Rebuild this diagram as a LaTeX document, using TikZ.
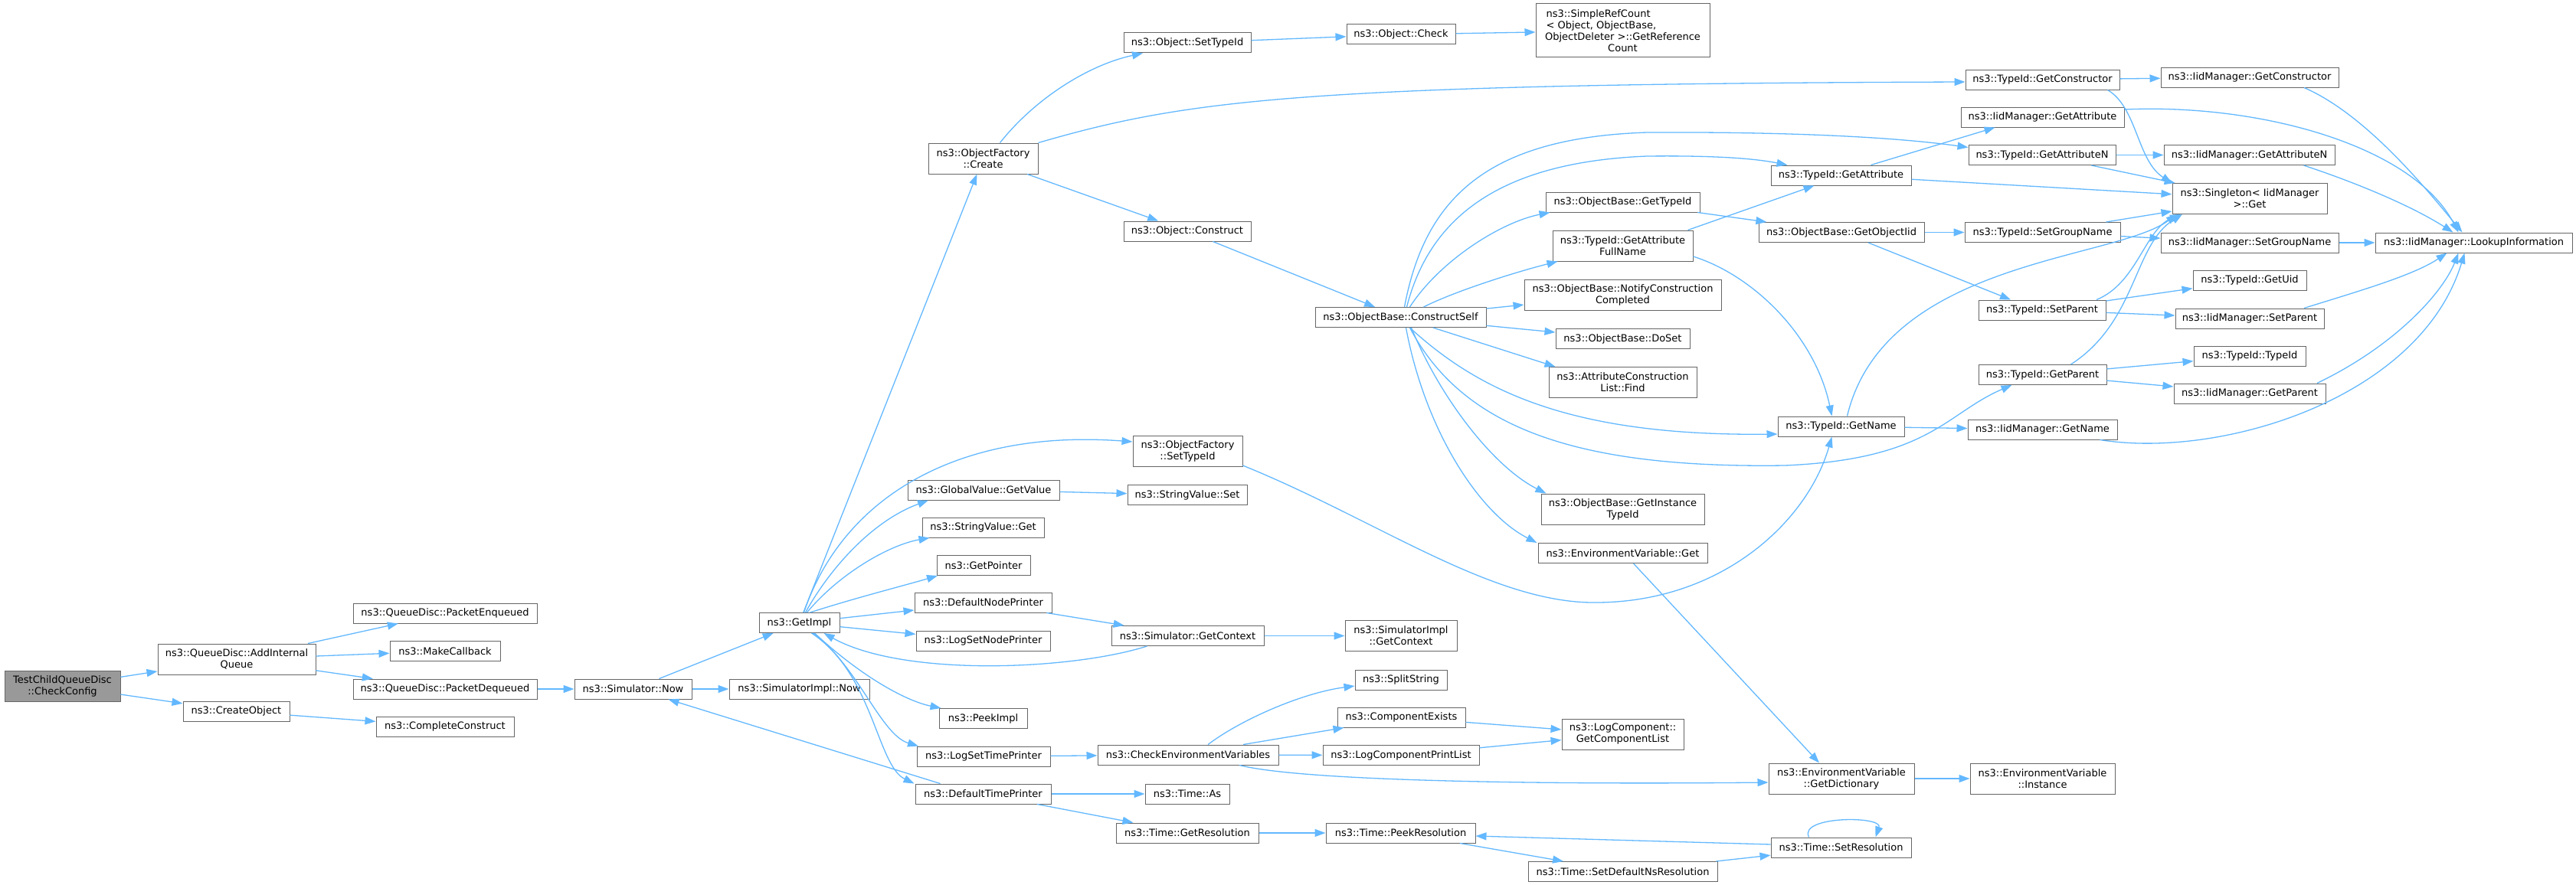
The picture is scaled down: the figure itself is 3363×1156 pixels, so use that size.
\documentclass[tikz,border=0pt]{standalone}
\usepackage{fontspec}
\setmainfont{DejaVu Sans}
\usetikzlibrary{arrows.meta}

\definecolor{edgeblue}{HTML}{63B8FF}
\definecolor{boxgray}{HTML}{666666}
\definecolor{rootgray}{HTML}{999999}

\begin{document}
\begin{tikzpicture}[x=1pt, y=-1pt,
    fn/.style={draw=boxgray, line width=1pt, fill=white, rectangle, inner sep=2pt, minimum height=26pt, align=center, font=\fontsize{13}{15}\selectfont},
    fn2/.style={fn, minimum height=40pt},
    call/.style={draw=edgeblue, line width=1.3pt, -{Triangle[length=14pt,width=10pt]}}]
    \useasboundingbox (0,0) rectangle (3363,1156);

    % functions
    \node[fn2, fill=rootgray, minimum width=151pt] (root) at (81.5,896) {TestChildQueueDisc\\::CheckConfig};
    \node[fn2, minimum width=206pt] (addq) at (309,861) {ns3::QueueDisc::AddInternal\\Queue};
    \node[fn, minimum width=240pt] (enq) at (581,801) {ns3::QueueDisc::PacketEnqueued};
    \node[fn, minimum width=144pt] (mkcb) at (581,850.5) {ns3::MakeCallback};
    \node[fn, minimum width=240pt] (deq) at (581,900) {ns3::QueueDisc::PacketDequeued};
    \node[fn, minimum width=139pt] (create) at (308.5,929) {ns3::CreateObject};
    \node[fn, minimum width=180pt] (complete) at (581,949) {ns3::CompleteConstruct};
    \node[fn, minimum width=153pt] (now) at (826.5,900) {ns3::Simulator::Now};
    \node[fn, minimum width=105pt] (getimpl) at (1043.5,813.5) {ns3::GetImpl};
    \node[fn, minimum width=183pt] (implnow) at (1043.5,900) {ns3::SimulatorImpl::Now};
    \node[fn2, minimum width=143pt] (ofcreate) at (1283.5,207) {ns3::ObjectFactory\\::Create};
    \node[fn, minimum width=198pt] (gvget) at (1284,640) {ns3::GlobalValue::GetValue};
    \node[fn, minimum width=159pt] (svget) at (1283.5,689) {ns3::StringValue::Get};
    \node[fn, minimum width=122pt] (getptr) at (1284,738.5) {ns3::GetPointer};
    \node[fn, minimum width=179pt] (dnp) at (1283.5,787) {ns3::DefaultNodePrinter};
    \node[fn, minimum width=175pt] (lsnp) at (1283.5,837) {ns3::LogSetNodePrinter};
    \node[fn, minimum width=115pt] (peek) at (1283.5,938.5) {ns3::PeekImpl};
    \node[fn, minimum width=174pt] (lstp) at (1284,988) {ns3::LogSetTimePrinter};
    \node[fn, minimum width=177pt] (dtp) at (1283.5,1037) {ns3::DefaultTimePrinter};
    \node[fn, minimum width=166pt] (osettid) at (1550,56) {ns3::Object::SetTypeId};
    \node[fn, minimum width=166pt] (oconstruct) at (1550,302) {ns3::Object::Construct};
    \node[fn2, minimum width=143pt] (ofsettid) at (1550.5,589) {ns3::ObjectFactory\\::SetTypeId};
    \node[fn, minimum width=156pt] (svset) at (1550,646.5) {ns3::StringValue::Set};
    \node[fn, minimum width=199pt] (simctx) at (1550.5,830.5) {ns3::Simulator::GetContext};
    \node[fn, minimum width=236pt] (cev) at (1551,986) {ns3::CheckEnvironmentVariables};
    \node[fn, minimum width=110pt] (tas) at (1550,1037) {ns3::Time::As};
    \node[fn, minimum width=186pt] (tgetres) at (1550,1088) {ns3::Time::GetResolution};
    \node[fn, minimum width=142pt] (ocheck) at (1829,45) {ns3::Object::Check};
    \node[fn, minimum width=223pt] (cself) at (1828.5,414.5) {ns3::ObjectBase::ConstructSelf};
    \node[fn2, minimum width=146pt] (implctx) at (1829,830.5) {ns3::SimulatorImpl\\::GetContext};
    \node[fn, minimum width=120pt] (split) at (1829,888) {ns3::SplitString};
    \node[fn, minimum width=167pt] (cexists) at (1829.5,937) {ns3::ComponentExists};
    \node[fn, minimum width=204pt] (lcpl) at (1829,986.5) {ns3::LogComponentPrintList};
    \node[fn, minimum width=195pt] (peekres) at (1828.5,1088) {ns3::Time::PeekResolution};
    \node[fn, minimum width=227pt, minimum height=70pt] (refcnt) at (2118.5,40) {\makebox[200pt][l]{ns3::SimpleRefCount}\\\makebox[200pt][l]{< Object, ObjectBase,}\\ObjectDeleter >::GetReference\\Count};
    \node[fn, minimum width=201pt] (ogettid) at (2118.5,264) {ns3::ObjectBase::GetTypeId};
    \node[fn2, minimum width=183pt] (gafn) at (2118.5,321) {ns3::TypeId::GetAttribute\\FullName};
    \node[fn2, minimum width=257pt] (notify) at (2118.5,385) {ns3::ObjectBase::NotifyConstruction\\Completed};
    \node[fn, minimum width=175pt] (doset) at (2118.5,442.5) {ns3::ObjectBase::DoSet};
    \node[fn2, minimum width=193pt] (acfind) at (2118.5,499.5) {ns3::AttributeConstruction\\List::Find};
    \node[fn2, minimum width=213pt] (instid) at (2118.5,665) {ns3::ObjectBase::GetInstance\\TypeId};
    \node[fn, minimum width=221pt] (envget) at (2118.5,722.5) {ns3::EnvironmentVariable::Get};
    \node[fn2, minimum width=159pt] (complist) at (2118.5,959) {ns3::LogComponent::\\GetComponentList};
    \node[fn, minimum width=247pt] (setdefns) at (2118.5,1138.5) {ns3::Time::SetDefaultNsResolution};
    \node[fn, minimum width=183pt] (tgetattr) at (2403.5,229) {ns3::TypeId::GetAttribute};
    \node[fn, minimum width=216pt] (getoiid) at (2404,303.5) {ns3::ObjectBase::GetObjectIid};
    \node[fn, minimum width=165pt] (tgetname) at (2403.5,557) {ns3::TypeId::GetName};
    \node[fn2, minimum width=190pt] (getdict) at (2404,1017) {ns3::EnvironmentVariable\\::GetDictionary};
    \node[fn, minimum width=183pt] (setres) at (2403.5,1107) {ns3::Time::SetResolution};
    \node[fn, minimum width=201pt] (tgetctor) at (2666.5,104) {ns3::TypeId::GetConstructor};
    \node[fn, minimum width=213pt] (iidgetattr) at (2666.5,153) {ns3::IidManager::GetAttribute};
    \node[fn, minimum width=192pt] (tgetattrn) at (2666,202.5) {ns3::TypeId::GetAttributeN};
    \node[fn, minimum width=203pt] (tsetgrp) at (2666.5,303.5) {ns3::TypeId::SetGroupName};
    \node[fn, minimum width=166pt] (tsetpar) at (2666,405) {ns3::TypeId::SetParent};
    \node[fn, minimum width=167pt] (tgetpar) at (2666.5,489.5) {ns3::TypeId::GetParent};
    \node[fn, minimum width=195pt] (iidgetname) at (2666.5,561) {ns3::IidManager::GetName};
    \node[fn2, minimum width=189pt] (envinst) at (2666.5,1017) {ns3::EnvironmentVariable\\::Instance};
    \node[fn, minimum width=232pt] (iidgetctor) at (2937,101) {ns3::IidManager::GetConstructor};
    \node[fn, minimum width=223pt] (iidgetattrn) at (2936.5,202.5) {ns3::IidManager::GetAttributeN};
    \node[fn2, minimum width=202pt] (single) at (2937,259.5) {ns3::Singleton< IidManager\\>::Get};
    \node[fn, minimum width=232pt] (iidsetgrp) at (2937,317) {ns3::IidManager::SetGroupName};
    \node[fn, minimum width=148pt] (tgetuid) at (2937,366) {ns3::TypeId::GetUid};
    \node[fn, minimum width=194pt] (iidsetpar) at (2937,416) {ns3::IidManager::SetParent};
    \node[fn, minimum width=146pt] (ttypeid) at (2937,465) {ns3::TypeId::TypeId};
    \node[fn, minimum width=198pt] (iidgetpar) at (2937,514) {ns3::IidManager::GetParent};
    \node[fn, minimum width=257pt] (lookup) at (3229.5,317) {ns3::IidManager::LookupInformation};

    % calls
    \draw[call] (root) -- (addq);
    \draw[call] (root) -- (create);
    \draw[call] (addq) -- (enq);
    \draw[call] (addq) -- (mkcb);
    \draw[call] (addq) -- (deq);
    \draw[call] (create) -- (complete);
    \draw[call] (deq) -- (now);
    \draw[call] (now) -- (getimpl);
    \draw[call] (now) -- (implnow);

    \draw[call] (getimpl) -- (ofcreate);
    \draw[call] ([xshift=6pt]getimpl.north) .. controls (1100,650) and (1250,560) .. ([yshift=12pt]ofsettid.west);
    \draw[call] ([xshift=8pt]getimpl.north) .. controls (1085,740) and (1140,680) .. ([xshift=-72pt]gvget.south);
    \draw[call] ([xshift=10pt]getimpl.north) .. controls (1095,750) and (1160,712) .. ([xshift=-70pt]svget.south);
    \draw[call] ([xshift=14pt]getimpl.north) .. controls (1120,780) and (1180,765) .. ([xshift=-60pt]getptr.south);
    \draw[call] (getimpl) -- (dnp);
    \draw[call] (getimpl) -- (lsnp);
    \draw[call] ([xshift=20pt]getimpl.south) .. controls (1120,880) and (1180,915) .. ([xshift=-55pt]peek.north);
    \draw[call] ([xshift=18pt]getimpl.south) .. controls (1120,870) and (1150,960) .. ([xshift=-85pt]lstp.north);
    \draw[call] ([xshift=16pt]getimpl.south) .. controls (1140,880) and (1145,1000) .. ([xshift=-90pt]dtp.north);
    \draw[call] ([xshift=-53pt]simctx.south) .. controls (1400,875) and (1180,885) .. ([xshift=32pt]getimpl.south);
    \draw[call] ([xshift=-56pt]dtp.north) -- ([xshift=46pt]now.south);
    \draw[call] (dnp) -- (simctx);
    \draw[call] (simctx) -- (implctx);
    \draw[call] (gvget) -- (svset);
    \draw[call] (lstp) -- (cev);
    \draw[call] ([xshift=26pt]cev.north) .. controls (1620,940) and (1700,905) .. ([yshift=-8pt]split.west);
    \draw[call] ([xshift=72pt]cev.north) -- ([xshift=-75pt]cexists.south);
    \draw[call] (cev) -- (lcpl);
    \draw[call] ([xshift=67pt]cev.south) .. controls (1700,1020) and (2000,1025) .. ([yshift=-5pt]getdict.west);
    \draw[call] (cexists) -- (complist);
    \draw[call] (lcpl) -- (complist);
    \draw[call] (dtp) -- (tas);
    \draw[call] (dtp) -- (tgetres);
    \draw[call] (tgetres) -- (peekres);
    \draw[call] (peekres) -- (setdefns);
    \draw[call] (setdefns) -- (setres);
    \draw[call] ([yshift=4pt]setres.west) -- ([yshift=-4pt]peekres.east);
    \draw[call] ([xshift=-42pt]setres.north) .. controls +(-14pt,28pt) and +(10pt,28pt) .. ([xshift=45pt]setres.north);

    \draw[call] ([xshift=22pt]ofcreate.north) .. controls (1350,130) and (1420,85) .. ([xshift=-58pt]osettid.south);
    \draw[call] (ofcreate.north east) .. controls (1550,130) and (1700,110) .. ([yshift=-3pt]tgetctor.west);
    \draw[call] (ofcreate) -- (oconstruct);
    \draw[call] (osettid) -- (ocheck);
    \draw[call] (ocheck) -- (refcnt);
    \draw[call] (oconstruct) -- (cself);

    \draw[call] ([xshift=5pt]cself.north) .. controls (1860,260) and (1940,180) .. (2150,173) .. controls (2350,172) and (2480,180) .. ([yshift=10pt]tgetattrn.west);
    \draw[call] ([xshift=8pt]cself.north) .. controls (1865,290) and (1950,212) .. (2150,204) .. controls (2240,203) and (2290,207) .. ([xshift=-70pt]tgetattr.north);
    \draw[call] ([xshift=12pt]cself.north) .. controls (1880,340) and (1960,290) .. ([xshift=-95pt]ogettid.south);
    \draw[call] ([xshift=30pt]cself.north) .. controls (1900,380) and (1980,355) .. ([xshift=-85pt]gafn.south);
    \draw[call] (cself) -- (notify);
    \draw[call] (cself) -- (doset);
    \draw[call] (cself) -- ([xshift=-88pt]acfind.north);
    \draw[call] ([xshift=12pt]cself.south) .. controls (1930,510) and (2050,570) .. ([yshift=-10pt]tgetname.west);
    \draw[call] ([xshift=12pt]cself.south) .. controls (1910,560) and (2060,612) .. (2330,608) .. controls (2520,600) and (2540,540) .. ([xshift=-40pt]tgetpar.south);
    \draw[call] ([xshift=14pt]cself.south) .. controls (1880,520) and (1950,610) .. ([xshift=-100pt]instid.north);
    \draw[call] ([xshift=7pt]cself.south) .. controls (1860,560) and (1930,670) .. ([xshift=-112pt]envget.north);
    \draw[call] ([xshift=14pt]envget.south) -- ([xshift=-29pt]getdict.north);
    \draw[call] ([yshift=-19pt]ofsettid.east) .. controls (1800,680) and (1950,790) .. (2087,787) .. controls (2250,785) and (2360,680) .. ([xshift=-12pt]tgetname.south);
    \draw[call] (ogettid) -- (getoiid);
    \draw[call] ([xshift=85pt]gafn.north) -- ([xshift=-35pt]tgetattr.south);
    \draw[call] ([yshift=-14pt]gafn.east) .. controls (2290,360) and (2370,440) .. ([xshift=-12pt]tgetname.north);

    \draw[call] ([xshift=39pt]tgetattr.north) -- ([xshift=-62pt]iidgetattr.south);
    \draw[call] (tgetattr) -- (single);
    \draw[call] (tgetattrn) -- (iidgetattrn);
    \draw[call] (tgetattrn) -- (single);
    \draw[call] (tgetctor) -- (iidgetctor);
    \draw[call] ([xshift=85pt]tgetctor.south) .. controls (2790,140) and (2790,210) .. (single.north west);
    \draw[call] ([xshift=71pt]iidgetctor.south) .. controls (3090,150) and (3170,250) .. ([xshift=-15pt]lookup.north);
    \draw[call] ([yshift=10pt]iidgetattr.east) .. controls (2950,135) and (3150,190) .. ([xshift=-20pt]lookup.north);
    \draw[call] ([xshift=71pt]iidgetattrn.south) .. controls (3080,240) and (3150,270) .. ([xshift=-27pt]lookup.north);
    \draw[call] (getoiid) -- (tsetgrp);
    \draw[call] ([xshift=35pt]getoiid.south) -- ([xshift=-41pt]tsetpar.north);
    \draw[call] (tsetgrp) -- (single);
    \draw[call] (tsetgrp) -- (iidsetgrp);
    \draw[call] (iidsetgrp) -- (lookup);
    \draw[call] ([xshift=71pt]tsetpar.north) .. controls (2790,370) and (2800,300) .. ([xshift=-90pt]single.south);
    \draw[call] (tsetpar) -- (tgetuid);
    \draw[call] (tsetpar) -- (iidsetpar);
    \draw[call] ([xshift=71pt]iidsetpar.north) .. controls (3080,380) and (3150,360) .. ([xshift=-35pt]lookup.south);
    \draw[call] ([xshift=37pt]tgetpar.north) .. controls (2790,420) and (2785,320) .. ([xshift=-88pt]single.south);
    \draw[call] (tgetpar) -- (ttypeid);
    \draw[call] (tgetpar) -- (iidgetpar);
    \draw[call] ([xshift=88pt]iidgetpar.north) .. controls (3130,450) and (3190,380) .. ([xshift=-20pt]lookup.south);
    \draw[call] ([xshift=8pt]tgetname.north) .. controls (2460,340) and (2760,340) .. ([xshift=-95pt]single.south);
    \draw[call] (tgetname) -- (iidgetname);
    \draw[call] ([xshift=75pt]iidgetname.south) .. controls (2900,600) and (3160,520) .. ([xshift=-12pt]lookup.south);
    \draw[call] (getdict) -- (envinst);
\end{tikzpicture}
\end{document}
